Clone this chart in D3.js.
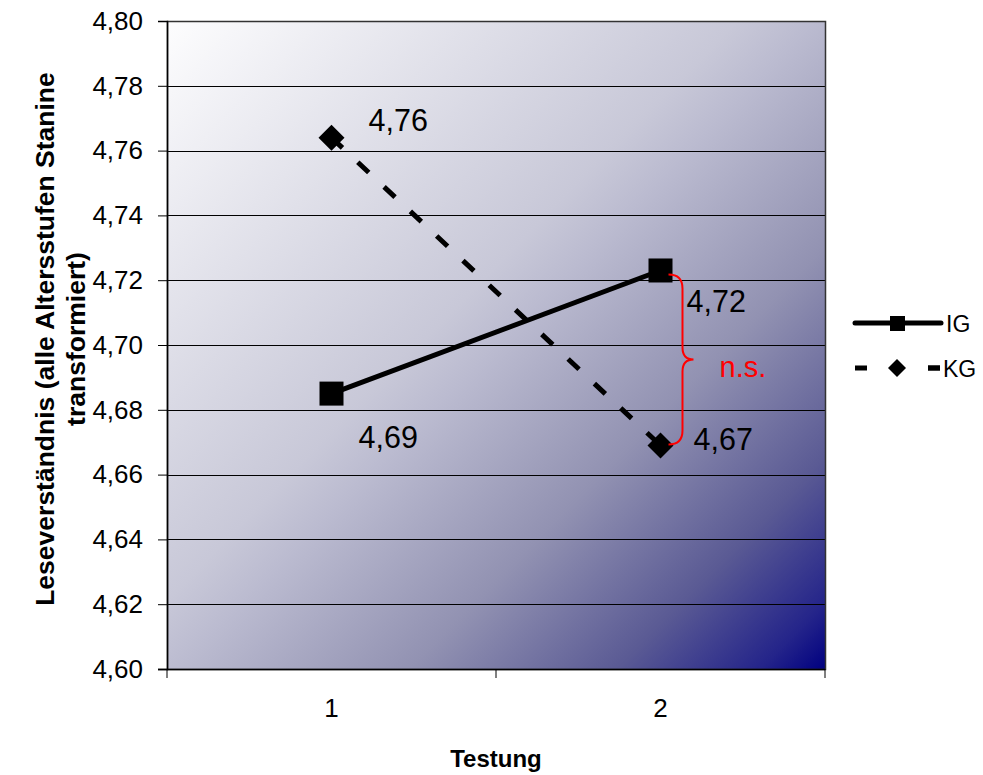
<!DOCTYPE html>
<html>
	<head>
		<meta charset="utf-8">
		<script src="https://cdn.jsdelivr.net/npm/d3@7"></script>
		<style>
			body { margin: 0; background: #fff; }
			text { font-family: "Liberation Sans", Arial, sans-serif; }
		</style>
	</head>
	<body>
		<script>
			/* Daten */
			var categories = ["1", "2"];
			var igValues = [4.685, 4.723];
			var kgValues = [4.764, 4.669];
			var igLabels = ["4,69", "4,72"];
			var kgLabels = ["4,76", "4,67"];
			var yTicks = [4.60, 4.62, 4.64, 4.66, 4.68, 4.70, 4.72, 4.74, 4.76, 4.78, 4.80];

			var width = 983, height = 775;
			var pLeft = 167, pRight = 825, pTop = 21, pBottom = 669;

			var svg = d3.select("body").append("svg")
				.attr("width", width)
				.attr("height", height);

			var x = d3.scaleBand().domain(categories).range([pLeft, pRight]).padding(0);
			var y = d3.scaleLinear().domain([4.60, 4.80]).range([pBottom, pTop]);
			var cx = function(d){ return x(d) + x.bandwidth() / 2; };

			var de = d3.formatLocale({ decimal: ",", thousands: ".", grouping: [3], currency: ["", "€"] });
			var fmt = de.format(".2f");

			/* Hintergrund mit Verlauf */
			var grad = svg.append("defs").append("linearGradient")
				.attr("id", "bg")
				.attr("gradientUnits", "userSpaceOnUse")
				.attr("x1", pLeft).attr("y1", pTop)
				.attr("x2", pRight).attr("y2", pBottom);
			[[0, "#fdfdfe"], [0.44, "#c8c8d8"], [0.5, "#bbbbd0"], [0.68, "#9292b2"],
			 [0.84, "#5a5a94"], [0.95, "#24248a"], [1, "#000080"]].forEach(function(s){
				grad.append("stop").attr("offset", s[0]).attr("stop-color", s[1]);
			});

			svg.append("rect")
				.attr("x", pLeft).attr("y", pTop)
				.attr("width", pRight - pLeft).attr("height", pBottom - pTop)
				.attr("fill", "url(#bg)");

			/* Gitterlinien */
			svg.append("g").selectAll("line").data(yTicks.slice(1, -1)).enter().append("line")
				.attr("x1", pLeft).attr("x2", pRight)
				.attr("y1", function(d){ return Math.round(y(d)) + 0.5; })
				.attr("y2", function(d){ return Math.round(y(d)) + 0.5; })
				.attr("stroke", "#000").attr("stroke-width", 1);

			svg.append("rect")
				.attr("x", pLeft + 0.5).attr("y", pTop + 0.5)
				.attr("width", pRight - pLeft).attr("height", pBottom - pTop)
				.attr("fill", "none").attr("stroke", "#333").attr("stroke-width", 1.5);

			/* Achsen */
			var yAxis = svg.append("g")
				.attr("transform", "translate(" + pLeft + ",0)")
				.call(d3.axisLeft(y).tickValues(yTicks).tickFormat(fmt).tickSize(9).tickPadding(15));
			yAxis.select(".domain").attr("stroke", "#000").attr("stroke-width", 1.5);
			yAxis.selectAll("text").attr("font-size", 26).attr("fill", "#000")
				.attr("font-family", "Liberation Sans, Arial, sans-serif");

			var xAxis = svg.append("g")
				.attr("transform", "translate(0," + pBottom + ")")
				.call(d3.axisBottom(x).tickSize(0).tickPadding(30));
			xAxis.select(".domain").attr("d", "M" + (pLeft - 9) + ",0.5H" + pRight).attr("stroke", "#000").attr("stroke-width", 1.5);
			xAxis.selectAll("text").attr("font-size", 26).attr("fill", "#000")
				.attr("font-family", "Liberation Sans, Arial, sans-serif");
			xAxis.selectAll("line.sep").data([pLeft, (pLeft + pRight) / 2, pRight]).enter().append("line")
				.attr("class", "sep")
				.attr("x1", function(d){ return d; }).attr("x2", function(d){ return d; })
				.attr("y1", 0).attr("y2", 9).attr("stroke", "#000");

			/* Achsentitel */
			svg.append("text")
				.attr("x", (pLeft + pRight) / 2).attr("y", 767)
				.attr("text-anchor", "middle")
				.attr("font-size", 24).attr("font-weight", "bold")
				.text("Testung");

			var yt = svg.append("text")
				.attr("transform", "translate(54,339) rotate(-90)")
				.attr("text-anchor", "middle")
				.attr("font-size", 26.5).attr("font-weight", "bold");
			yt.append("tspan").attr("x", 0).attr("y", 0).text("Leseverständnis (alle Altersstufen Stanine");
			yt.append("tspan").attr("x", 0).attr("y", 31).text("transformiert)");

			/* Linien */
			var line = d3.line()
				.x(function(d, i){ return cx(categories[i]); })
				.y(function(d){ return y(d); });

			svg.append("path").datum(igValues)
				.attr("d", line).attr("fill", "none")
				.attr("stroke", "#000").attr("stroke-width", 5);

			svg.append("path").datum(kgValues)
				.attr("d", line).attr("fill", "none")
				.attr("stroke", "#000").attr("stroke-width", 5)
				.attr("stroke-dasharray", "15,21");

			/* Marker */
			svg.selectAll("rect.ig").data(igValues).enter().append("rect")
				.attr("class", "ig")
				.attr("x", function(d, i){ return cx(categories[i]) - 12; })
				.attr("y", function(d){ return y(d) - 12; })
				.attr("width", 24).attr("height", 24)
				.attr("fill", "#000");

			svg.selectAll("path.kg").data(kgValues).enter().append("path")
				.attr("class", "kg")
				.attr("d", "M0,-13L13,0L0,13L-13,0Z")
				.attr("transform", function(d, i){ return "translate(" + cx(categories[i]) + "," + y(d) + ")"; })
				.attr("fill", "#000");

			/* Datenbeschriftungen */
			var igOff = [[27, 54], [26, 42]];
			var kgOff = [[37, -7], [33, 5]];
			svg.selectAll("text.igl").data(igValues).enter().append("text")
				.attr("class", "igl")
				.attr("x", function(d, i){ return cx(categories[i]) + igOff[i][0]; })
				.attr("y", function(d, i){ return y(d) + igOff[i][1]; })
				.attr("font-size", 30.5)
				.text(function(d, i){ return igLabels[i]; });
			svg.selectAll("text.kgl").data(kgValues).enter().append("text")
				.attr("class", "kgl")
				.attr("x", function(d, i){ return cx(categories[i]) + kgOff[i][0]; })
				.attr("y", function(d, i){ return y(d) + kgOff[i][1]; })
				.attr("font-size", 30.5)
				.text(function(d, i){ return kgLabels[i]; });

			/* Klammer n.s. */
			var bx = cx(categories[1]);
			var yT = y(igValues[1]) + 4, yB = y(kgValues[1]) - 1, yM = (yT + yB) / 2;
			svg.append("path")
				.attr("d", "M" + (bx + 8) + "," + yT +
					" Q" + (bx + 22) + "," + yT + " " + (bx + 22) + "," + (yT + 14) +
					" L" + (bx + 22) + "," + (yM - 12) +
					" Q" + (bx + 22) + "," + yM + " " + (bx + 33) + "," + yM +
					" Q" + (bx + 22) + "," + yM + " " + (bx + 22) + "," + (yM + 12) +
					" L" + (bx + 22) + "," + (yB - 14) +
					" Q" + (bx + 22) + "," + yB + " " + (bx + 8) + "," + yB)
				.attr("fill", "none").attr("stroke", "#ff0000").attr("stroke-width", 2);
			svg.append("text")
				.attr("x", bx + 59).attr("y", yM + 18)
				.attr("font-size", 29).attr("fill", "#ff0000")
				.text("n.s.");

			/* Legende */
			var legend = svg.append("g");
			legend.append("line").attr("x1", 855).attr("x2", 941).attr("y1", 323).attr("y2", 323)
				.attr("stroke", "#000").attr("stroke-width", 5).attr("stroke-linecap", "round");
			legend.append("rect").attr("x", 890).attr("y", 316).attr("width", 15).attr("height", 15).attr("fill", "#000");
			legend.append("text").attr("x", 946).attr("y", 332).attr("font-size", 23).text("IG");

			legend.append("line").attr("x1", 855).attr("x2", 941).attr("y1", 368).attr("y2", 368)
				.attr("stroke", "#000").attr("stroke-width", 5).attr("stroke-dasharray", "12,61");
			legend.append("line").attr("x1", 928).attr("x2", 940).attr("y1", 368).attr("y2", 368)
				.attr("stroke", "#000").attr("stroke-width", 5);
			legend.append("path").attr("d", "M0,-9L9,0L0,9L-9,0Z")
				.attr("transform", "translate(897,368)").attr("fill", "#000");
			legend.append("text").attr("x", 943).attr("y", 377).attr("font-size", 23).text("KG");
		</script>
	</body>
</html>
